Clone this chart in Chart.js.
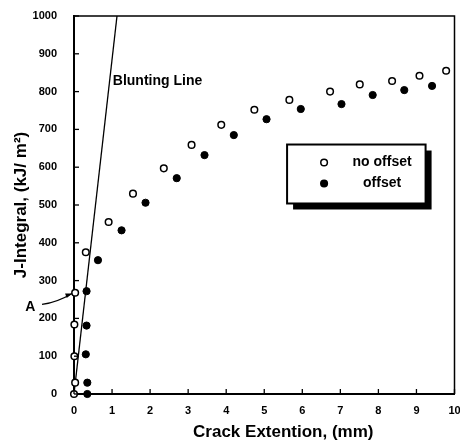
<!DOCTYPE html>
<html>
<head>
<meta charset="utf-8">
<script src="https://cdn.jsdelivr.net/npm/chart.js@4"></script>
<style>
  html, body { margin: 0; padding: 0; background: #fff; }
  #wrap { width: 460px; height: 441px; }
</style>
</head>
<body>
<div id="wrap"><canvas id="c"></canvas></div>
<script>
// data
const noOffsetX = [0, 0.03, 0.01, 0.01, 0.03, 0.31, 0.91, 1.55, 2.36, 3.09, 3.87, 4.74, 5.66, 6.73, 7.51, 8.36, 9.08, 9.78];
const noOffsetY = [0, 30, 100, 184, 268, 375, 455, 530, 597, 659, 712, 752, 778, 800, 819, 828, 842, 855];
const offsetX = [0.35, 0.35, 0.31, 0.33, 0.33, 0.63, 1.25, 1.88, 2.70, 3.43, 4.20, 5.06, 5.96, 7.03, 7.85, 8.68, 9.41];
const offsetY = [0, 30, 105, 181, 272, 354, 433, 506, 571, 632, 685, 727, 754, 767, 791, 804, 815];
const bluntX = [0, 1.13];
const bluntY = [0, 1000];

const seriesNames = ["no offset", "offset"];
const xTitle = "Crack Extention, (mm)";
const yTitle = "J-Integral, (kJ/ m\u00b2)";
const bluntLabel = "Blunting Line";
const pointLabel = "A";

const FONT = "'Liberation Sans', Arial, sans-serif";

function toPoints(xs, ys) {
  return xs.map((x, i) => ({ x: x, y: ys[i] }));
}

// frame, inward ticks, legend box, annotations
const decor = {
  id: "decor",
  afterDraw(chart) {
    const ctx = chart.ctx;
    const a = chart.chartArea;
    const xs = chart.scales.x;
    const ys = chart.scales.y;
    ctx.save();
    ctx.strokeStyle = "#000";
    ctx.fillStyle = "#000";

    // top + right border of the plot box
    ctx.lineWidth = 1.5;
    ctx.beginPath();
    ctx.moveTo(a.left, a.top);
    ctx.lineTo(a.right, a.top);
    ctx.lineTo(a.right, a.bottom);
    ctx.stroke();

    // tick marks pointing inside
    ctx.lineWidth = 1.3;
    xs.ticks.forEach((t) => {
      const px = xs.getPixelForValue(t.value);
      ctx.beginPath();
      ctx.moveTo(px, a.bottom);
      ctx.lineTo(px, a.bottom - 5);
      ctx.stroke();
    });
    ys.ticks.forEach((t) => {
      const py = ys.getPixelForValue(t.value);
      ctx.beginPath();
      ctx.moveTo(a.left, py);
      ctx.lineTo(a.left + 5, py);
      ctx.stroke();
    });

    // x axis title, centred a bit right of the axis middle like the scan
    ctx.font = "bold 17px " + FONT;
    ctx.textAlign = "center";
    ctx.textBaseline = "middle";
    ctx.fillText(xTitle, xs.getPixelForValue(5.5), 432);

    // blunting line label
    ctx.font = "bold 14px " + FONT;
    ctx.textAlign = "left";
    ctx.fillText(bluntLabel, xs.getPixelForValue(1.02), ys.getPixelForValue(828));

    // "A" with arrow to the point
    ctx.textAlign = "center";
    ctx.fillText(pointLabel, xs.getPixelForValue(-1.15), ys.getPixelForValue(229));
    const x0 = xs.getPixelForValue(-0.84), y0 = ys.getPixelForValue(237);
    const x1 = xs.getPixelForValue(-0.05), y1 = ys.getPixelForValue(266);
    ctx.lineWidth = 1.3;
    ctx.beginPath();
    ctx.moveTo(x0, y0);
    ctx.quadraticCurveTo((x0 + x1) / 2, y0 - 2, x1, y1);
    ctx.stroke();
    const ang = Math.atan2(y1 - y0, x1 - x0);
    ctx.beginPath();
    ctx.moveTo(x1, y1);
    ctx.lineTo(x1 - 7 * Math.cos(ang - 0.35), y1 - 7 * Math.sin(ang - 0.35));
    ctx.lineTo(x1 - 7 * Math.cos(ang + 0.35), y1 - 7 * Math.sin(ang + 0.35));
    ctx.closePath();
    ctx.fill();

    // legend box with drop shadow
    const bx0 = xs.getPixelForValue(5.6), bx1 = xs.getPixelForValue(9.24);
    const by0 = ys.getPixelForValue(660), by1 = ys.getPixelForValue(504);
    ctx.fillRect(bx0 + 6, by0 + 6, bx1 - bx0, by1 - by0);
    ctx.fillStyle = "#fff";
    ctx.fillRect(bx0, by0, bx1 - bx0, by1 - by0);
    ctx.lineWidth = 2;
    ctx.strokeRect(bx0, by0, bx1 - bx0, by1 - by0);

    const rows = [by0 + 18, by0 + 39];
    chart.data.datasets.slice(0, 2).forEach((ds, i) => {
      ctx.beginPath();
      ctx.arc(bx0 + 37, rows[i], 3.3, 0, Math.PI * 2);
      ctx.fillStyle = ds.backgroundColor;
      ctx.fill();
      ctx.lineWidth = 1.5;
      ctx.stroke();
      ctx.fillStyle = "#000";
      ctx.font = "bold 14px " + FONT;
      ctx.textAlign = "center";
      ctx.fillText(ds.label, bx0 + 95, rows[i]);
    });
    ctx.restore();
  }
};

const tickFont = { family: FONT, size: 11, weight: "bold" };

new Chart(document.getElementById("c"), {
  type: "scatter",
  data: {
    datasets: [
      {
        label: seriesNames[0],
        data: toPoints(noOffsetX, noOffsetY),
        clip: false,
        pointRadius: 3.3,
        pointBorderWidth: 1.5,
        borderColor: "#000",
        backgroundColor: "#fff",
        pointBackgroundColor: "#fff",
        pointBorderColor: "#000"
      },
      {
        label: seriesNames[1],
        data: toPoints(offsetX, offsetY),
        clip: false,
        pointRadius: 3.6,
        pointBorderWidth: 1,
        borderColor: "#000",
        backgroundColor: "#000",
        pointBackgroundColor: "#000",
        pointBorderColor: "#000"
      },
      {
        label: bluntLabel,
        data: toPoints(bluntX, bluntY),
        showLine: true,
        pointRadius: 0,
        borderWidth: 1.3,
        borderColor: "#000",
        backgroundColor: "#000"
      }
    ]
  },
  options: {
    responsive: true,
    maintainAspectRatio: false,
    animation: false,
    layout: { padding: { top: 16, right: 4, left: 0, bottom: 0 } },
    plugins: { legend: { display: false }, tooltip: { enabled: false } },
    scales: {
      x: {
        type: "linear",
        min: 0,
        max: 10,
        ticks: { stepSize: 1, font: tickFont, color: "#000", padding: 2, maxRotation: 0 },
        grid: { display: false },
        border: { display: true, color: "#000", width: 2 },
        afterFit(s) {
          s.height = 47;
          s.paddingLeft = 0;
          s.paddingRight = 0;
        }
      },
      y: {
        min: 0,
        max: 1000,
        ticks: {
          stepSize: 100,
          font: tickFont,
          color: "#000",
          padding: 9,
          callback: (v) => String(v)
        },
        grid: { display: false },
        border: { display: true, color: "#000", width: 2 },
        title: {
          display: true,
          text: yTitle,
          color: "#000",
          font: { family: FONT, size: 17, weight: "bold" },
          padding: { top: 11, bottom: 0 }
        },
        afterFit(s) {
          s.width = 74;
        }
      }
    }
  },
  plugins: [decor]
});
</script>
</body>
</html>
